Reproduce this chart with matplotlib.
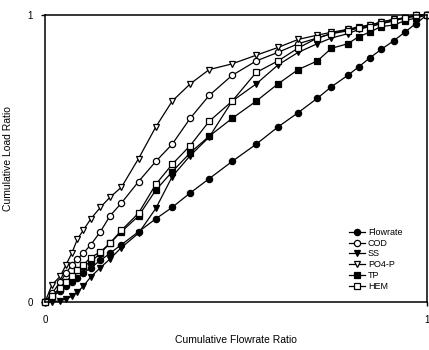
import numpy as np
import matplotlib.pyplot as plt

plt.rcParams['font.family'] = ['Liberation Sans', 'DejaVu Sans']

# cumulative flowrate ratio (shared x for every series)
x = [0, 0.018, 0.04, 0.055, 0.07, 0.085, 0.10, 0.12, 0.145, 0.17, 0.20, 0.245,
     0.29, 0.333, 0.38, 0.43, 0.49, 0.553, 0.61, 0.663, 0.713, 0.75, 0.793,
     0.822, 0.85, 0.88, 0.913, 0.942, 0.971, 1.0]

flowrate = [0, 0.018, 0.04, 0.055, 0.07, 0.085, 0.10, 0.12, 0.145, 0.17, 0.20, 0.245,
            0.29, 0.33, 0.38, 0.43, 0.49, 0.55, 0.61, 0.66, 0.71, 0.75, 0.79,
            0.82, 0.85, 0.88, 0.91, 0.94, 0.97, 1.0]
cod = [0, 0.03, 0.07, 0.10, 0.13, 0.15, 0.17, 0.20, 0.245, 0.30, 0.345, 0.42,
       0.49, 0.55, 0.64, 0.72, 0.79, 0.84, 0.87, 0.90, 0.92, 0.935, 0.95,
       0.955, 0.965, 0.975, 0.985, 0.99, 1.0, 1.0]
ss = [0, 0.0, 0.005, 0.01, 0.02, 0.035, 0.055, 0.088, 0.12, 0.15, 0.19, 0.24,
      0.326, 0.437, 0.51, 0.575, 0.70, 0.76, 0.826, 0.87, 0.90, 0.92, 0.935,
      0.95, 0.96, 0.97, 0.98, 0.99, 0.995, 1.0]
po4p = [0, 0.06, 0.09, 0.13, 0.17, 0.22, 0.25, 0.29, 0.33, 0.365, 0.40, 0.50,
        0.61, 0.70, 0.76, 0.81, 0.83, 0.86, 0.887, 0.915, 0.93, 0.94, 0.95,
        0.96, 0.965, 0.975, 0.985, 0.99, 1.0, 1.0]
tp = [0, 0.02, 0.05, 0.07, 0.09, 0.11, 0.125, 0.14, 0.17, 0.205, 0.245, 0.30,
      0.39, 0.454, 0.52, 0.578, 0.64, 0.70, 0.76, 0.81, 0.84, 0.884, 0.90,
      0.925, 0.94, 0.96, 0.965, 0.98, 0.99, 1.0]
hem = [0, 0.02, 0.05, 0.07, 0.09, 0.11, 0.13, 0.155, 0.175, 0.205, 0.25, 0.31,
       0.41, 0.48, 0.545, 0.63, 0.70, 0.80, 0.84, 0.885, 0.92, 0.935, 0.945,
       0.955, 0.96, 0.97, 0.98, 0.99, 1.0, 1.0]

series = [
    ("Flowrate", flowrate, 'o', 'black'),
    ("COD", cod, 'o', 'white'),
    ("SS", ss, 'v', 'black'),
    ("PO4-P", po4p, 'v', 'white'),
    ("TP", tp, 's', 'black'),
    ("HEM", hem, 's', 'white'),
]

fig = plt.figure(figsize=(4.29, 3.5), dpi=100)
ax = fig.add_axes([0.105, 0.137, 0.89, 0.82])

for name, y, mk, fc in series:
    ax.plot(x, y, color='black', lw=0.9, marker=mk, markersize=4.5,
            markerfacecolor=fc, markeredgecolor='black', markeredgewidth=0.9,
            label=name, clip_on=False)

ax.set_xlim(0, 1)
ax.set_ylim(0, 1)
ax.set_xticks([0, 1])
ax.set_yticks([0, 1])
ax.tick_params(labelsize=7, length=3, width=1, direction='out', pad=6)
for s in ax.spines.values():
    s.set_linewidth(1.1)

ax.set_xlabel("Cumulative Flowrate Ratio", fontsize=7.5)
ax.set_ylabel("Cumulative Load Ratio", fontsize=7.5)
ax.xaxis.set_label_coords(0.5, -0.115)
ax.yaxis.set_label_coords(-0.085, 0.5)

ax.legend(loc='lower right', bbox_to_anchor=(0.95, 0.02), frameon=False,
          fontsize=6.5, labelspacing=0.2, handlelength=1.8, handletextpad=0.3,
          borderaxespad=0.2)

fig.savefig("out.png", dpi=100)
